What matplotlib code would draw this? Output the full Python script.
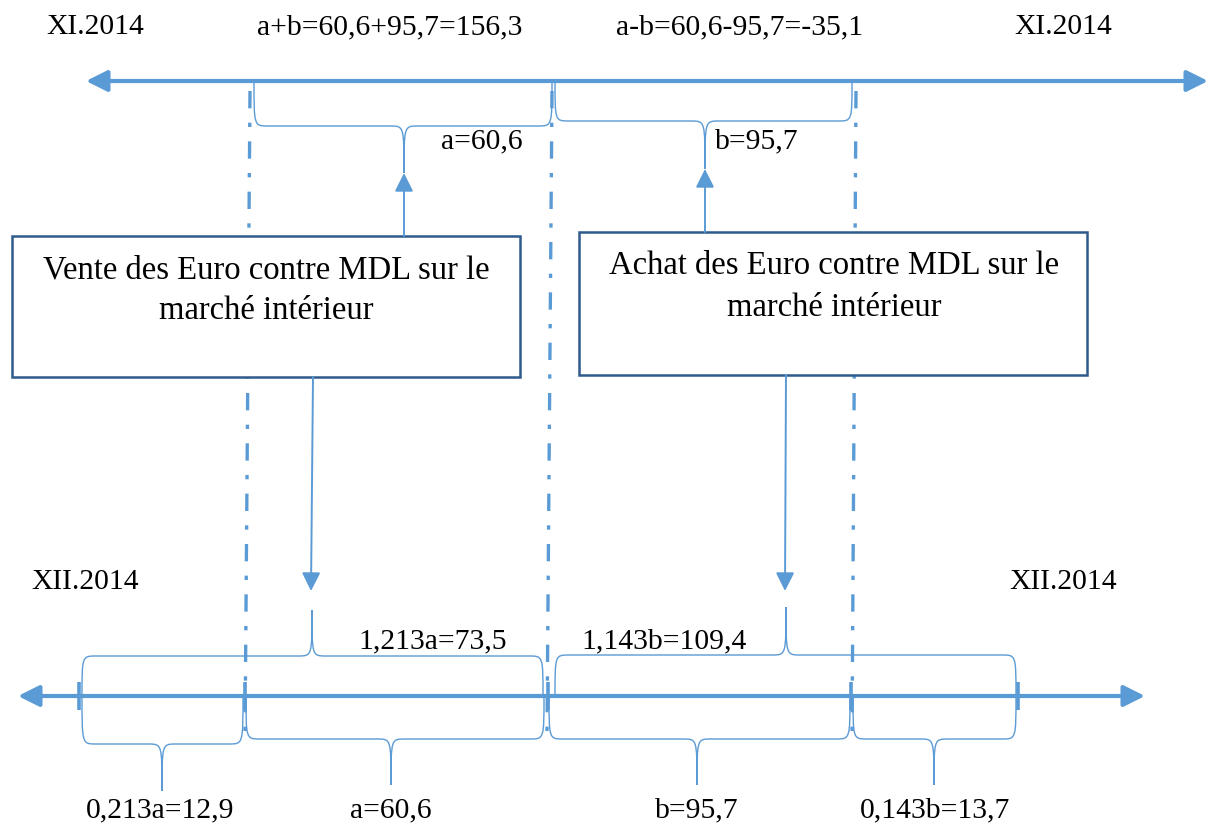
import matplotlib.pyplot as plt
from matplotlib.path import Path
from matplotlib.patches import PathPatch, Rectangle

# values
a = 60.6
b = 95.7
ka = 1.213   # coefficient for a
kb = 1.143   # coefficient for b
period_top = "XI.2014"
period_bot = "XII.2014"
box_lines = [["Vente des Euro contre MDL sur le", "marché intérieur"],
             ["Achat des Euro contre MDL sur le", "marché intérieur"]]


def fmt(v, nd=1):
    return f"{v:.{nd}f}".replace(".", ",")


lbl_sum = f"a+b={fmt(a)}+{fmt(b)}={fmt(a + b)}"
lbl_diff = f"a-b={fmt(a)}-{fmt(b)}={fmt(a - b)}"
lbl_a = f"a={fmt(a)}"
lbl_b = f"b={fmt(b)}"
lbl_ka = f"{fmt(ka, 3)}a={fmt(ka * a)}"
lbl_kb = f"{fmt(kb, 3)}b={fmt(kb * b)}"
lbl_ra = f"{fmt(ka - 1, 3)}a={fmt((ka - 1) * a)}"
lbl_rb = f"{fmt(kb - 1, 3)}b={fmt((kb - 1) * b)}"

BLUE = "#5B9BD5"
NAVY = "#2F5A8C"
plt.rcParams['font.family'] = ['Liberation Serif', 'DejaVu Serif']
FS = 21.3
FS_BOX = 23.5

fig = plt.figure(figsize=(12.08, 8.28), dpi=100)
ax = fig.add_axes([0, 0, 1, 1])
ax.set_xlim(0, 1208)
ax.set_ylim(828, 0)
ax.axis('off')


def brace(x0, x1, y0, y1, xt, yt, r=14):
    verts = [(x0, y0), (x0, y1), (x0, y1), (x0 + r, y1),
             (xt - r, y1),
             (xt, y1), (xt, y1), (xt, yt),
             (xt, y1), (xt, y1), (xt + r, y1),
             (x1 - r, y1),
             (x1, y1), (x1, y1), (x1, y0)]
    codes = [Path.MOVETO, Path.CURVE4, Path.CURVE4, Path.CURVE4,
             Path.LINETO,
             Path.CURVE4, Path.CURVE4, Path.CURVE4,
             Path.CURVE4, Path.CURVE4, Path.CURVE4,
             Path.LINETO,
             Path.CURVE4, Path.CURVE4, Path.CURVE4]
    ax.add_patch(PathPatch(Path(verts, codes), fill=False, ec=BLUE, lw=1.0))


def arrow(x0, y0, x1, y1, style='-|>', lw=1.4, ms=28):
    ax.annotate("", xy=(x1, y1), xytext=(x0, y0),
                arrowprops=dict(arrowstyle=style, color=BLUE, lw=lw,
                                mutation_scale=ms, shrinkA=0, shrinkB=0))


# main axes (time lines)
arrow(1208, 82, 86, 82, style='<|-|>', lw=3, ms=32)
arrow(1145, 697, 18, 697, style='<|-|>', lw=3, ms=32)

# tick marks on the bottom line
for xt in [79, 245, 548, 851, 1018]:
    ax.plot([xt, xt], [683, 711], color=BLUE, lw=2.6, solid_capstyle='butt')

# dash-dot separators
for xa, xb, yb in [(250, 245, 740), (552, 547, 732), (856, 852, 740)]:
    ax.plot([xa, xb], [92, yb], color=BLUE, lw=2.4,
            linestyle=(0, (5.2, 4.3, 1.3, 4.3)))

# top braces
brace(254, 552, 83, 127, 404, 174)
brace(555, 852, 83, 122, 705, 170)

# bottom braces above the line
brace(82, 543, 697, 657, 312, 611)
brace(555, 1016, 697, 656, 786, 608)
# bottom braces below the line
brace(82, 243, 697, 745, 162, 792)
brace(246, 544, 697, 740, 391, 786)
brace(549, 850, 697, 740, 697, 786)
brace(853, 1016, 697, 740, 934, 786)

# boxes (white fill hides the separators)
ax.add_patch(Rectangle((12, 237), 508, 141, fc='white', ec=NAVY, lw=1.8,
                       zorder=3))
ax.add_patch(Rectangle((579, 233), 508, 143, fc='white', ec=NAVY, lw=1.8,
                       zorder=3))
for cx, ys, lines in [(266, (270, 311), box_lines[0]),
                      (834, (266, 308), box_lines[1])]:
    for yy, s in zip(ys, lines):
        ax.text(cx, yy, s, ha='center', va='center', fontsize=FS_BOX,
                zorder=4)

# connecting arrows
arrow(404, 237, 404, 174)
arrow(705, 233, 705, 170)
arrow(313, 378, 311, 592)
arrow(786, 376, 785, 592)

# labels
ax.text(95, 27, period_top, ha='center', va='center', fontsize=FS)
ax.text(1063, 27, period_top, ha='center', va='center', fontsize=FS)
ax.text(390, 27, lbl_sum, ha='center', va='center', fontsize=FS)
ax.text(740, 27, lbl_diff, ha='center', va='center', fontsize=FS)
ax.text(482, 141, lbl_a, ha='center', va='center', fontsize=FS)
ax.text(757, 141, lbl_b, ha='center', va='center', fontsize=FS)
ax.text(85, 582, period_bot, ha='center', va='center', fontsize=FS)
ax.text(1063, 582, period_bot, ha='center', va='center', fontsize=FS)
ax.text(433, 641, lbl_ka, ha='center', va='center', fontsize=FS)
ax.text(664, 641, lbl_kb, ha='center', va='center', fontsize=FS)
ax.text(160, 810, lbl_ra, ha='center', va='center', fontsize=FS)
ax.text(391, 810, lbl_a, ha='center', va='center', fontsize=FS)
ax.text(697, 810, lbl_b, ha='center', va='center', fontsize=FS)
ax.text(935, 810, lbl_rb, ha='center', va='center', fontsize=FS)

plt.savefig("out.png", dpi=100)
